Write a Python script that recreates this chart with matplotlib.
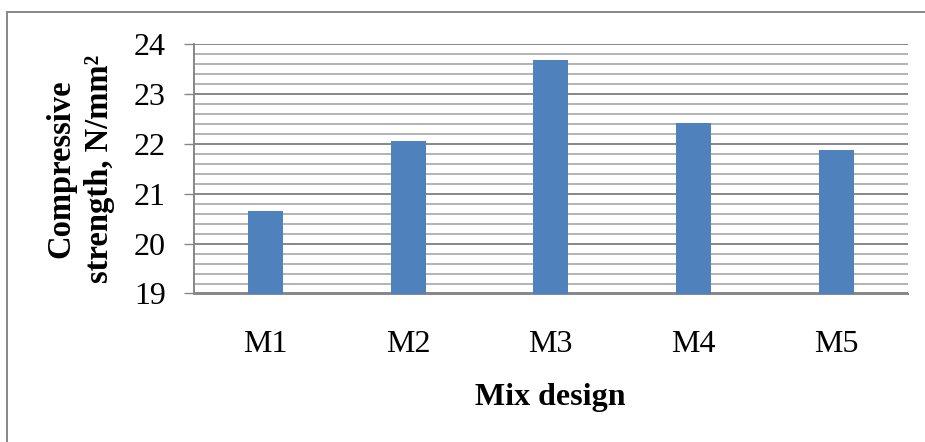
import matplotlib
matplotlib.use("Agg")
import matplotlib.pyplot as plt
from matplotlib.lines import Line2D
from matplotlib.ticker import MultipleLocator

categories = ["M1", "M2", "M3", "M4", "M5"]
strength = [20.65, 22.05, 23.68, 22.41, 21.88]
y_ticks = [19, 20, 21, 22, 23, 24]

plt.rcParams['font.family'] = ['Liberation Serif', 'DejaVu Serif']

W, H = 925, 442
fig = plt.figure(figsize=(W / 100, H / 100), dpi=100)
left, right, top, bottom = 194, 907.5, 44, 293.5
ax = fig.add_axes([left / W, 1 - bottom / H, (right - left) / W, (bottom - top) / H])

x = list(range(len(categories)))
ax.bar(x, strength, width=0.245, color="#4F81BD", zorder=3)

ax.set_xlim(-0.5, len(categories) - 0.5)
ax.set_ylim(19, 24)
ax.set_yticks(y_ticks)
ax.yaxis.set_minor_locator(MultipleLocator(0.2))
ax.set_xticks(x)
ax.set_xticklabels(categories)

ax.grid(axis="y", which="major", color="#878787", linewidth=1.4, zorder=0)
ax.grid(axis="y", which="minor", color="#b3b3b3", linewidth=1.4, zorder=0)
ax.set_axisbelow(True)

for s in ["top", "right"]:
    ax.spines[s].set_visible(False)
for s in ["left", "bottom"]:
    ax.spines[s].set_color("#878787")
    ax.spines[s].set_linewidth(1.4)

ax.tick_params(axis="y", which="major", length=7.2, width=1.0, color="#878787",
               labelsize=23, pad=13, labelcolor="black")
ax.tick_params(axis="y", which="minor", length=0)
ax.tick_params(axis="x", which="both", length=0, labelsize=23, pad=26.5)

fig.text(550 / W, 1 - 397 / H, "Mix design", ha="center", va="center",
         fontsize=23, fontweight="bold")
fig.text(80 / W, 1 - 169 / H, "Compressive\nstrength, N/mm²", ha="center",
         va="center", rotation=90, multialignment="center", fontsize=23.5,
         fontweight="bold", linespacing=1.3)

# outer frame (left and top visible)
fig.add_artist(Line2D([7 / W, 7 / W], [0, 1 - 12 / H], transform=fig.transFigure,
                      color="#878787", linewidth=1.4))
fig.add_artist(Line2D([7 / W, 1], [1 - 12 / H, 1 - 12 / H], transform=fig.transFigure,
                      color="#878787", linewidth=1.4))

fig.savefig("out.png", dpi=100)
